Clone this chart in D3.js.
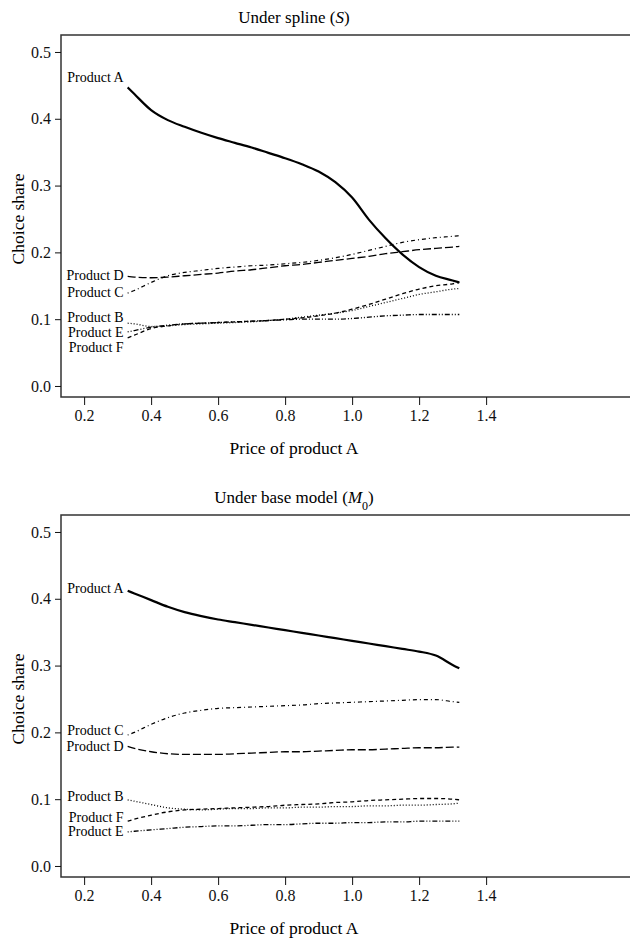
<!DOCTYPE html>
<html>
<head>
<meta charset="utf-8">
<script src="https://cdn.jsdelivr.net/npm/d3@7"></script>
<style>
  body { margin: 0; background: #fff; }
  svg { display: block; }
  svg text { font-family: "Liberation Serif", "Times New Roman", serif; }
</style>
</head>
<body>
<svg id="mainSvg" width="630" height="938"></svg>
<script>

// price grid shared by every curve
var prices = [0.33, 0.35, 0.40, 0.45, 0.50, 0.55, 0.60, 0.65, 0.70, 0.75, 0.80,
              0.85, 0.90, 0.95, 1.00, 1.05, 1.10, 1.15, 1.20, 1.25, 1.30, 1.32];

var products = ["A", "B", "C", "D", "E", "F"];
var shareTicks = [0.0, 0.1, 0.2, 0.3, 0.4, 0.5];
var priceTicks = [0.2, 0.4, 0.6, 0.8, 1.0, 1.2, 1.4];

// under spline (S)
var splineA = [0.447,0.437,0.413,0.398,0.388,0.379,0.371,0.364,0.357,0.349,0.341,0.332,0.321,0.305,0.282,0.249,0.221,0.197,0.178,0.165,0.158,0.155];
var splineB = [0.094,0.093,0.089,0.090,0.092,0.093,0.094,0.095,0.096,0.098,0.100,0.103,0.106,0.109,0.113,0.119,0.125,0.131,0.137,0.141,0.145,0.146];
var splineC = [0.139,0.143,0.155,0.165,0.170,0.173,0.176,0.178,0.180,0.181,0.183,0.185,0.188,0.192,0.197,0.203,0.209,0.215,0.219,0.222,0.224,0.225];
var splineD = [0.164,0.163,0.162,0.163,0.165,0.167,0.169,0.172,0.174,0.177,0.180,0.182,0.185,0.188,0.191,0.194,0.198,0.201,0.204,0.206,0.208,0.209];
var splineE = [0.081,0.083,0.088,0.091,0.093,0.094,0.095,0.096,0.097,0.098,0.099,0.100,0.100,0.100,0.101,0.103,0.105,0.106,0.107,0.107,0.107,0.107];
var splineF = [0.072,0.076,0.086,0.090,0.093,0.094,0.095,0.096,0.097,0.098,0.100,0.102,0.105,0.109,0.115,0.122,0.130,0.138,0.145,0.150,0.153,0.155];
// where the product names sit (share units)
var splineLabelAt = [0.462, 0.103, 0.141, 0.166, 0.081, 0.058];

// under base model (M0)
var baseA = [0.412,0.408,0.398,0.388,0.380,0.374,0.369,0.365,0.361,0.357,0.353,0.349,0.345,0.341,0.337,0.333,0.329,0.325,0.321,0.315,0.301,0.296];
var baseB = [0.099,0.097,0.092,0.087,0.085,0.084,0.085,0.086,0.086,0.087,0.087,0.088,0.088,0.089,0.089,0.090,0.090,0.091,0.091,0.092,0.093,0.094];
var baseC = [0.196,0.200,0.212,0.222,0.229,0.233,0.236,0.237,0.238,0.239,0.240,0.241,0.243,0.244,0.245,0.246,0.247,0.248,0.249,0.249,0.246,0.245];
var baseD = [0.179,0.176,0.171,0.168,0.167,0.167,0.167,0.168,0.169,0.170,0.171,0.171,0.172,0.173,0.174,0.174,0.175,0.176,0.177,0.177,0.178,0.178];
var baseE = [0.051,0.052,0.054,0.056,0.058,0.059,0.060,0.060,0.061,0.062,0.062,0.063,0.064,0.064,0.065,0.065,0.066,0.066,0.067,0.067,0.067,0.067];
var baseF = [0.067,0.070,0.076,0.081,0.084,0.085,0.086,0.087,0.088,0.089,0.091,0.092,0.093,0.095,0.096,0.098,0.099,0.100,0.101,0.101,0.100,0.099];
var baseLabelAt = [0.416, 0.105, 0.204, 0.180, 0.052, 0.073];

// line look per product (solid, dotted, dotdash, longdash, twodash, dashed)
var lineStyle = {
  A: {dash: null,          width: 2.2},
  B: {dash: "1,2",         width: 1.3},
  C: {dash: "1,3,4,3",     width: 1.2},
  D: {dash: "8,3",         width: 1.3},
  E: {dash: "1,2,1,2,5,2", width: 1.3},
  F: {dash: "4,3",         width: 1.3}
};

var svg = d3.select("#mainSvg");

function drawPanel(top, titleParts, series, labelAt){

  var left = 61, right = 640, height = 362;

  var x = d3.scaleLinear()
            .domain([0.131, 0.131 + (right - left) / 335])
            .range([left, right]);

  var y = d3.scaleLinear()
            .domain([-0.0165, -0.0165 + height / 668])
            .range([top + height, top]);

  var g = svg.append("g").attr("class", "panel");

  // title
  var title = g.append("text")
     .attr("x", 294)
     .attr("y", top - 12)
     .attr("text-anchor", "middle")
     .style("font-size", "17px");
  titleParts.forEach(function(p){
    var t = title.append("tspan").text(p.text);
    if (p.italic) t.style("font-style", "italic");
    if (p.sub) t.attr("baseline-shift", "sub").style("font-size", "12px");
  });

  // the box
  g.append("rect")
     .attr("x", left)
     .attr("y", top)
     .attr("width", right - left)
     .attr("height", height)
     .attr("fill", "none")
     .attr("stroke", "#333")
     .attr("stroke-width", 1.5);

  // add the x Axis
  var xAxis = g.append("g")
     .attr("transform", "translate(0," + (top + height) + ")")
     .call(d3.axisBottom(x).tickValues(priceTicks).tickFormat(d3.format(".1f"))
             .tickSize(8).tickPadding(5).tickSizeOuter(0));
  xAxis.select(".domain").remove();
  xAxis.selectAll("text")
       .style("font-family", "'Liberation Serif', 'Times New Roman', serif")
       .style("font-size", "16px").attr("fill", "#111");
  xAxis.selectAll("line").attr("stroke", "#111");

  // add the y Axis
  var yAxis = g.append("g")
     .attr("transform", "translate(" + left + ",0)")
     .call(d3.axisLeft(y).tickValues(shareTicks).tickFormat(d3.format(".1f"))
             .tickSize(6).tickPadding(4).tickSizeOuter(0));
  yAxis.select(".domain").remove();
  yAxis.selectAll("text")
       .style("font-family", "'Liberation Serif', 'Times New Roman', serif")
       .style("font-size", "16px").attr("fill", "#111");
  yAxis.selectAll("line").attr("stroke", "#111");

  // axis titles
  g.append("text")
     .attr("x", 294)
     .attr("y", top + height + 57)
     .attr("text-anchor", "middle")
     .style("font-size", "17.5px")
     .text("Price of product A");

  g.append("text")
     .attr("transform", "rotate(-90)")
     .attr("x", -(y(0) + y(0.5)) / 2)
     .attr("y", 24)
     .attr("text-anchor", "middle")
     .style("font-size", "17.5px")
     .text("Choice share");

  // the curves
  var line = d3.line()
     .x(function(d){ return x(d.price); })
     .y(function(d){ return y(d.share); })
     .curve(d3.curveMonotoneX);

  products.forEach(function(p, i){
    var pts = prices.map(function(pr, j){ return {price: pr, share: series[i][j]}; });
    g.append("path")
       .datum(pts)
       .attr("class", "curve curve_" + p)
       .attr("d", line)
       .attr("fill", "none")
       .attr("stroke", "#000")
       .attr("stroke-width", lineStyle[p].width)
       .attr("stroke-dasharray", lineStyle[p].dash);

    g.append("text")
       .attr("x", x(prices[0]) - 4)
       .attr("y", y(labelAt[i]))
       .attr("dy", "0.35em")
       .attr("text-anchor", "end")
       .style("font-size", "14px")
       .text("Product " + p);
  });
}

drawPanel(35,
  [{text: "Under spline ("}, {text: "S", italic: true}, {text: ")"}],
  [splineA, splineB, splineC, splineD, splineE, splineF],
  splineLabelAt);

drawPanel(515,
  [{text: "Under base model ("}, {text: "M", italic: true}, {text: "0", sub: true}, {text: ")"}],
  [baseA, baseB, baseC, baseD, baseE, baseF],
  baseLabelAt);

</script>
</body>
</html>
